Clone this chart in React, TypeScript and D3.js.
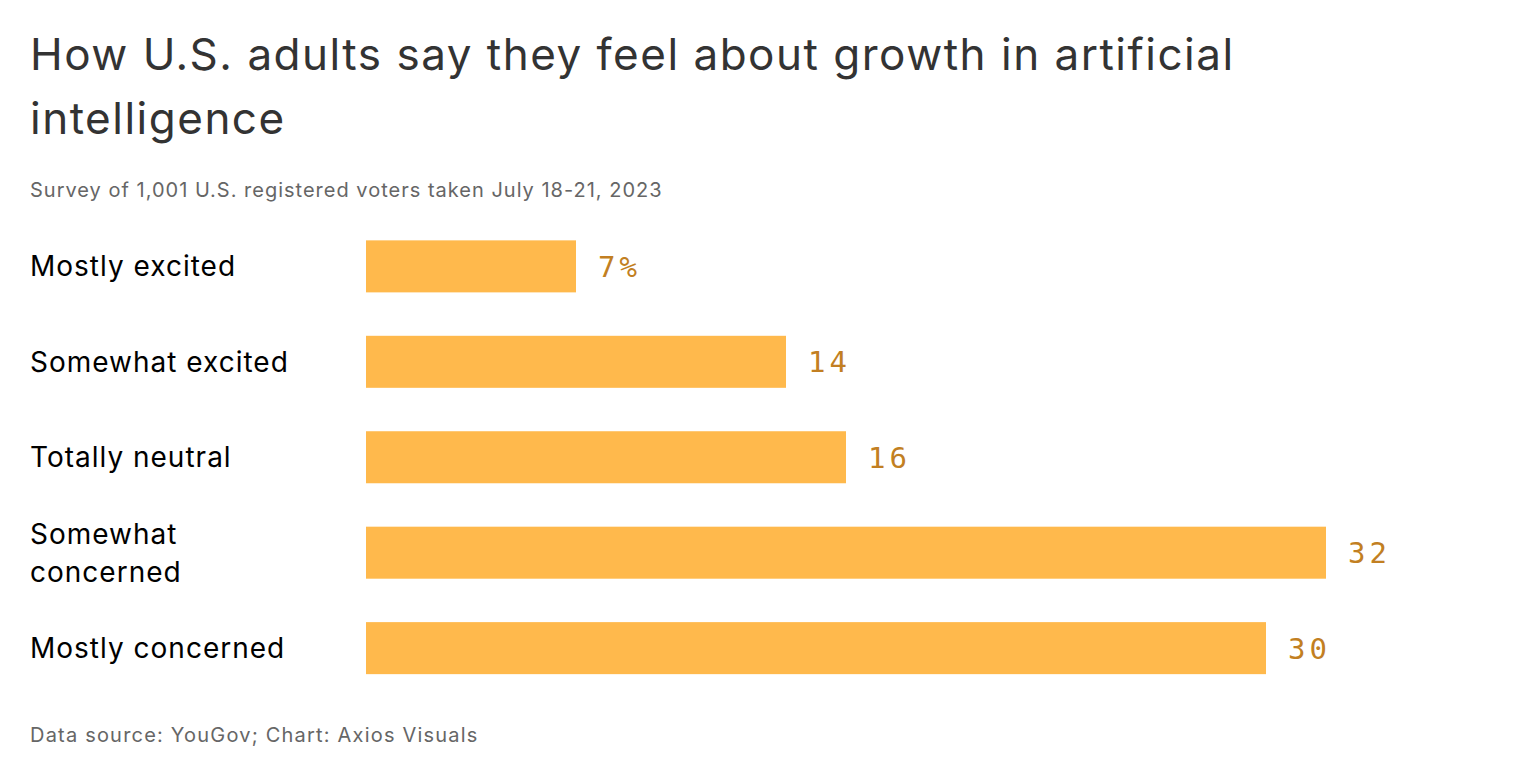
import React, { useRef, useEffect } from 'react';
import * as d3 from 'd3';

const categories = ['Mostly excited', 'Somewhat excited', 'Totally neutral', 'Somewhat concerned', 'Mostly concerned'];
const values = [7, 14, 16, 32, 30];
const valueLabels = ['7%', '14', '16', '32', '30'];

const titleLines = ['How U.S. adults say they feel about growth in artificial', 'intelligence'];
const subtitle = 'Survey of 1,001 U.S. registered voters taken July 18-21, 2023';
const footer = 'Data source: YouGov; Chart: Axios Visuals';

const W = 1524;
const H = 758;
const SANS = 'Inter, "Noto Sans", sans-serif';
const MONO = '"DejaVu Sans Mono", "Liberation Mono", monospace';

export default function App() {
  const svgRef = useRef<SVGSVGElement>(null);

  useEffect(() => {
    if (!svgRef.current) return;
    const svg = d3.select(svgRef.current);
    svg.selectAll('*').remove();

    svg.append('rect').attr('width', W).attr('height', H).attr('fill', '#fff');

    // title + subtitle
    svg.selectAll('.title')
      .data(titleLines)
      .enter().append('text')
      .attr('class', 'title')
      .attr('x', 30)
      .attr('y', (d, i) => 70 + i * 64)
      .attr('font-family', SANS)
      .attr('font-size', 44)
      .attr('letter-spacing', 1.5)
      .attr('fill', '#333')
      .text(d => d);

    svg.append('text')
      .attr('x', 30).attr('y', 197)
      .attr('font-family', SANS).attr('font-size', 20)
      .attr('letter-spacing', 1)
      .attr('fill', '#666')
      .text(subtitle);

    const x = d3.scaleLinear().domain([0, 32]).range([366, 1326]);
    const y = d3.scaleBand<string>()
      .domain(categories)
      .range([216.5, 698])
      .paddingInner(0.455)
      .paddingOuter(0.25);

    const rows = svg.selectAll('.row')
      .data(categories)
      .enter().append('g')
      .attr('class', 'row');

    rows.append('rect')
      .attr('x', x(0))
      .attr('y', d => y(d)!)
      .attr('width', (d, i) => x(values[i]) - x(0))
      .attr('height', y.bandwidth())
      .attr('fill', '#ffb94c');

    rows.append('text')
      .attr('x', (d, i) => x(values[i]) + 22)
      .attr('y', d => y(d)! + y.bandwidth() / 2)
      .attr('dy', '0.36em')
      .attr('font-family', MONO)
      .attr('font-size', 29)
      .attr('letter-spacing', 4)
      .attr('fill', '#c27f22')
      .text((d, i) => valueLabels[i]);

    // category labels, wrapped to fit the label column
    const maxW = 300;
    rows.append('text')
      .attr('x', 30)
      .attr('font-family', SANS)
      .attr('font-size', 28)
      .attr('letter-spacing', 1)
      .attr('fill', '#000')
      .each(function (d) {
        const t = d3.select(this);
        const words = d.split(' ');
        const lines: string[] = [];
        let cur = '';
        const probe = t.append('tspan');
        for (const w of words) {
          const test = cur ? cur + ' ' + w : w;
          probe.text(test);
          if ((probe.node() as SVGTSpanElement).getComputedTextLength() > maxW && cur) {
            lines.push(cur);
            cur = w;
          } else {
            cur = test;
          }
        }
        lines.push(cur);
        probe.remove();
        const cy = y(d)! + y.bandwidth() / 2;
        const lh = 38;
        const y0 = cy - ((lines.length - 1) * lh) / 2;
        lines.forEach((l, i) => {
          t.append('tspan')
            .attr('x', 30)
            .attr('y', y0 + i * lh)
            .attr('dy', '0.36em')
            .text(l);
        });
      });

    svg.append('text')
      .attr('x', 30).attr('y', 742)
      .attr('font-family', SANS).attr('font-size', 20)
      .attr('letter-spacing', 1.2)
      .attr('fill', '#666')
      .text(footer);
  }, []);

  return (
    <svg
      ref={svgRef}
      width={W}
      height={H}
      style={{ position: 'absolute', left: 0, top: 0 }}
    />
  );
}
